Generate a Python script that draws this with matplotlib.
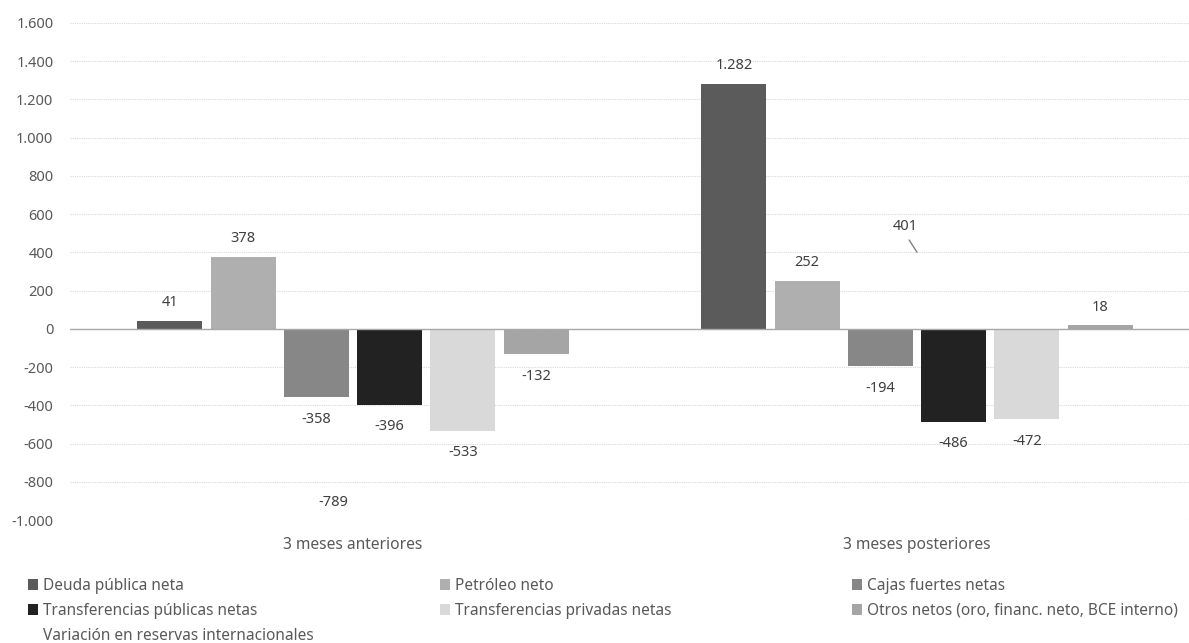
import matplotlib
matplotlib.use("Agg")
import matplotlib.pyplot as plt
import numpy as np

# ---- data -------------------------------------------------------------
categories = ["3 meses anteriores", "3 meses posteriores"]

series_names = [
    "Deuda pública neta",
    "Petróleo neto",
    "Cajas fuertes netas",
    "Transferencias públicas netas",
    "Transferencias privadas netas",
    "Otros netos (oro, financ. neto, BCE interno)",
]
deuda = [41, 1282]
petroleo = [378, 252]
cajas = [-358, -194]
transf_publicas = [-396, -486]
transf_privadas = [-533, -472]
otros = [-132, 18]

reservas_name = "Variación en reservas internacionales"
reservas = [-789, 401]

y_ticks = list(range(-1000, 1601, 200))

# ---- style ------------------------------------------------------------
colors = ["#5b5b5b", "#afafaf", "#878787", "#222222", "#d9d9d9", "#a5a5a5"]
text_color = "#404040"
tick_color = "#595959"
plt.rcParams["font.family"] = ["Noto Sans", "DejaVu Sans"]

W, H = 1189, 643
fig = plt.figure(figsize=(W / 100, H / 100), dpi=100)
ax = fig.add_axes([70 / W, 1 - 520 / H, 1 - 70 / W, (520 - 23) / H])


def fmt(v):
    return f"{v:,}".replace(",", ".")


x = np.arange(len(categories))
values = [deuda, petroleo, cajas, transf_publicas, transf_privadas, otros]
step = 0.1298
width = 0.1152

bars = []
for i, (name, vals, c) in enumerate(zip(series_names, values, colors)):
    pos = x + (i - 2.5) * step
    b = ax.bar(pos, vals, width=width, color=c, label=name, zorder=3)
    bars.append(b)
    for px_, v in zip(pos, vals):
        off = 13 if v >= 0 else -16
        ax.annotate(fmt(v), (px_, v), xytext=(0, off), textcoords="offset points",
                    ha="center", va="center", fontsize=10.5, color=text_color)

# reserves variation: label-only series at the category centres
res_line, = ax.plot(x, reservas, linestyle="none", label=reservas_name)
ax.annotate(fmt(reservas[0]), (x[0], reservas[0]), xytext=(-14.4, -16.6),
            textcoords="offset points", ha="center", va="center",
            fontsize=10.5, color=text_color)
ax.annotate(fmt(reservas[1]), (x[1], reservas[1]), xytext=(-8.6, 18.7),
            textcoords="offset points", ha="center", va="center",
            fontsize=10.5, color=text_color,
            arrowprops=dict(arrowstyle="-", color="#808080", lw=1.0,
                            relpos=(0.5, 0.0), shrinkA=3, shrinkB=0))

# axes
ax.set_ylim(-1000, 1600)
ax.set_xlim(-(353 - 70) / 564, 1 + (W - 917) / 564)
ax.set_yticks(y_ticks)
ax.set_yticklabels([fmt(t) for t in y_ticks])
ax.set_xticks(x)
ax.set_xticklabels(categories)
ax.tick_params(axis="both", length=0, labelcolor=tick_color)
ax.tick_params(axis="y", pad=12, labelsize=10.5)
ax.tick_params(axis="x", pad=12, labelsize=11.2)
for s in ax.spines.values():
    s.set_visible(False)
ax.grid(axis="y", linestyle=(0, (1, 1)), color="#d9d9d9", linewidth=0.8, zorder=0)
ax.axhline(0, color="#a8a8a8", linewidth=1.0, zorder=4)

# legend in three evenly spaced columns
legend_cols = [
    ([bars[0], bars[3], res_line], [series_names[0], series_names[3], reservas_name], 28),
    ([bars[1], bars[4]], [series_names[1], series_names[4]], 440),
    ([bars[2], bars[5]], [series_names[2], series_names[5]], 852),
]
for handles, labels, x0 in legend_cols:
    leg = fig.legend(handles, labels, loc="upper left",
                     bbox_to_anchor=(x0 / W, 1 - 578 / H), frameon=False,
                     borderpad=0, borderaxespad=0, fontsize=11.1,
                     handlelength=0.65, handleheight=0.65, handletextpad=0.3,
                     labelspacing=0.58)
    for t in leg.get_texts():
        t.set_color(tick_color)

fig.savefig("out.png", dpi=100)
